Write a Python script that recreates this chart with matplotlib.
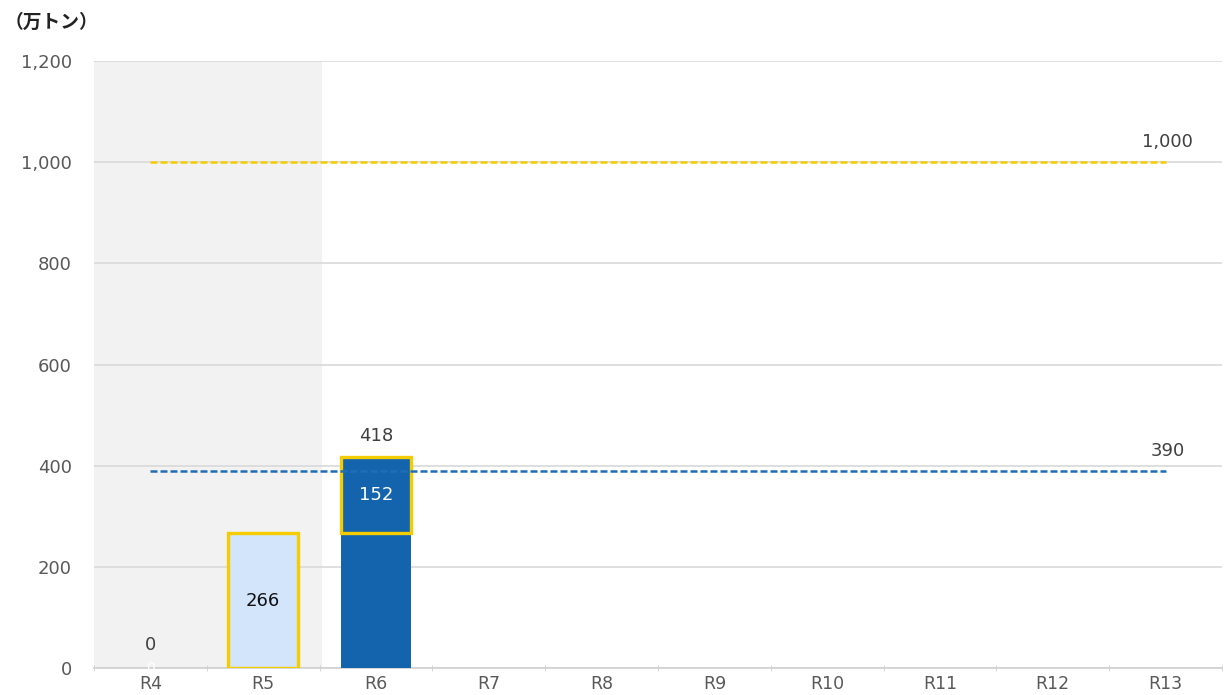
import numpy as np
import matplotlib.pyplot as plt

plt.rcParams['font.family'] = ['DejaVu Sans', 'Noto Sans CJK JP']

years = ["R4", "R5", "R6", "R7", "R8", "R9", "R10", "R11", "R12", "R13"]
base = [0, 266, 266, 0, 0, 0, 0, 0, 0, 0]      # lower segment
added = [0, 0, 152, 0, 0, 0, 0, 0, 0, 0]       # upper segment (R6)
target_high = 1000
target_low = 390

navy = "#1464ad"
light = "#d3e5fb"
yellow = "#f5cc00"
grey_txt = "#595959"

fig = plt.figure(figsize=(12.29, 6.95), dpi=100)
ax = fig.add_axes([0.0765, 0.0388, 0.9178, 0.8734])

x = np.arange(len(years))
w = 0.62

# shaded actual-years area
ax.axvspan(-0.5, 1.52, color="#f2f2f2", zorder=0, lw=0)

# R5 light bar
ax.bar(x[1], base[1], w, color=light, edgecolor=yellow, linewidth=2.4, zorder=3)
# R6 stacked
ax.bar(x[2], base[2], w, color=navy, linewidth=0, zorder=3)
ax.bar(x[2], added[2], w, bottom=base[2], color=navy, edgecolor=yellow,
       linewidth=2.4, zorder=4)

# target lines
ax.plot([x[0], x[-1]], [target_high] * 2, color=yellow, lw=1.8,
        dashes=(2.8, 1.2), zorder=2)
ax.plot([x[0], x[-1]], [target_low] * 2, color="#1f6db7", lw=1.8,
        dashes=(2.8, 1.2), zorder=5)

# labels
fs = 13
ax.text(x[0], 28, "0", ha="center", va="bottom", fontsize=fs, color="#404040")
ax.text(x[0], 0, "0", ha="center", va="center", fontsize=10, color="white", zorder=6)
ax.text(x[1], base[1] / 2, "266", ha="center", va="center", fontsize=fs, color="#111111", zorder=6)
ax.text(x[2], base[2] + added[2] / 2, "152", ha="center", va="center", fontsize=fs, color="white", zorder=6)
ax.text(x[2], base[2] + added[2] + 22, "418", ha="center", va="bottom", fontsize=fs, color="#404040")
ax.text(x[-1] + 0.02, target_high + 22, "1,000", ha="center", va="bottom", fontsize=fs, color="#404040")
ax.text(x[-1] + 0.02, target_low + 22, "390", ha="center", va="bottom", fontsize=fs, color="#404040")

ax.set_xlim(-0.5, len(years) - 0.5)
ax.set_ylim(0, 1200)
ax.set_yticks(np.arange(0, 1201, 200))
ax.set_yticklabels([f"{v:,}" for v in range(0, 1201, 200)])
ax.set_xticks(x)
ax.set_xticklabels(years)
ax.set_xticks(np.arange(-0.5, len(years), 1), minor=True)
ax.tick_params(axis="x", which="major", length=0, pad=5, labelsize=12.5, labelcolor=grey_txt)
ax.tick_params(axis="x", which="minor", length=5, color="#d0d0d0", direction="inout")
ax.tick_params(axis="y", length=0, pad=16, labelsize=13, labelcolor=grey_txt)

ax.grid(axis="y", color="#d9d9d9", lw=1.2, zorder=1)
ax.set_axisbelow(True)
for s in ["top", "right", "left"]:
    ax.spines[s].set_visible(False)
ax.spines["bottom"].set_color("#d0d0d0")
ax.spines["bottom"].set_linewidth(1.2)

fig.text(0.004, 0.968, "（万トン）", fontsize=13.5, fontweight="bold", color="#222222",
         ha="left", va="center", family=["Noto Sans CJK JP"])

fig.savefig("out.png", dpi=100)
